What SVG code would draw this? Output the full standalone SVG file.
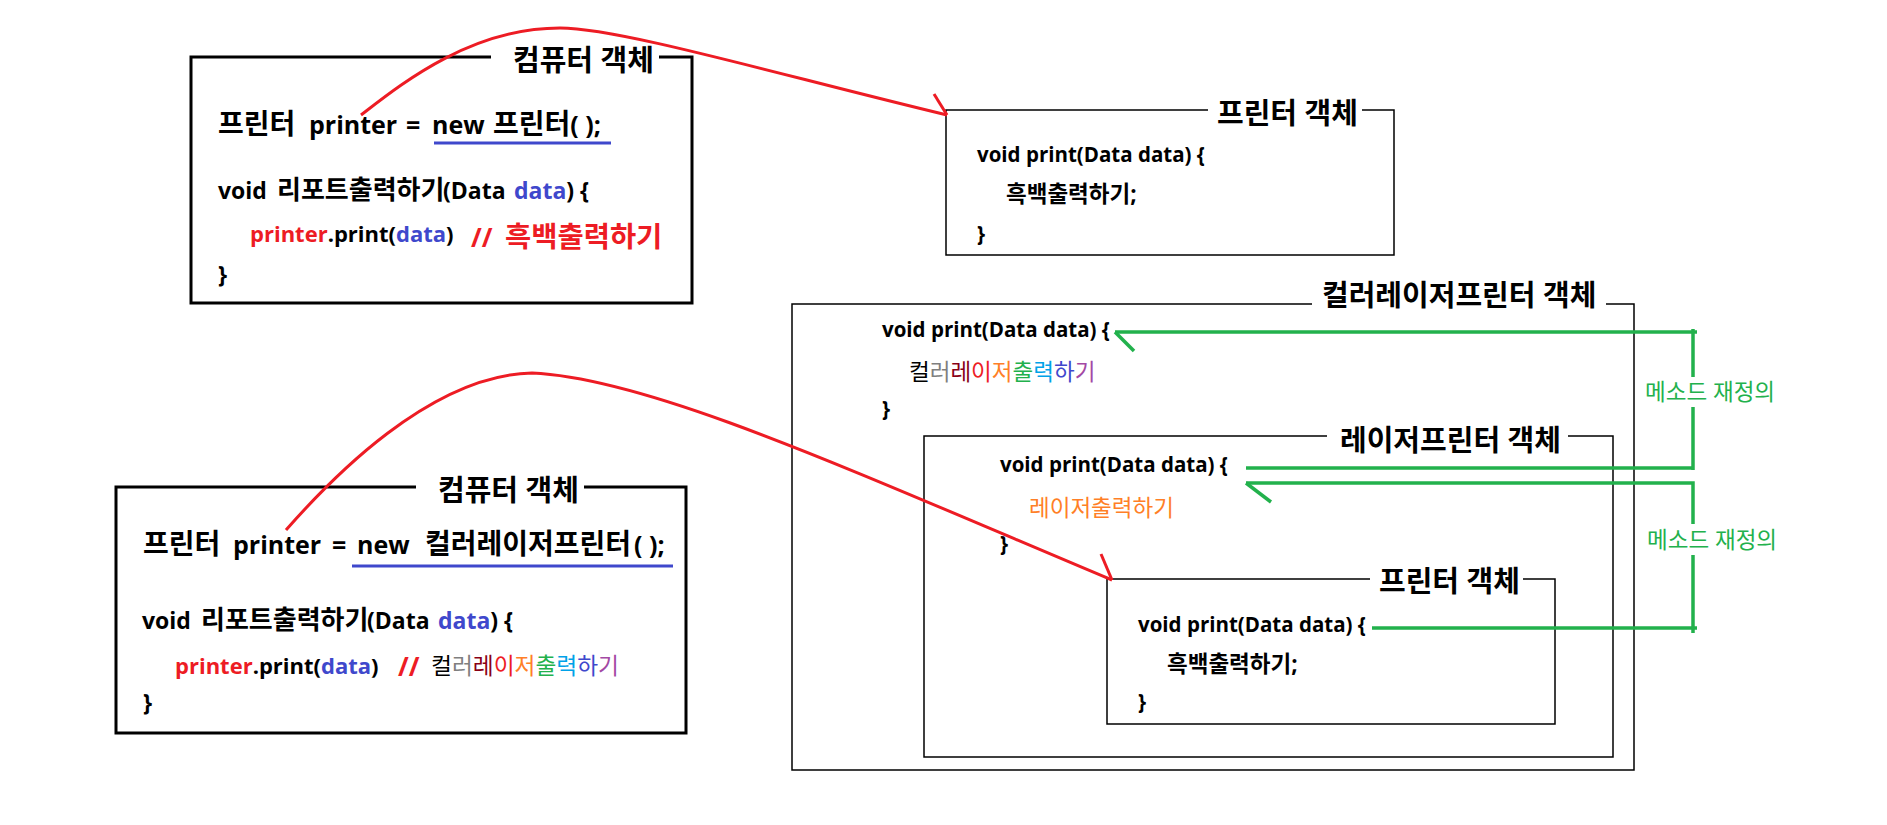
<svg xmlns="http://www.w3.org/2000/svg" width="1887" height="825" viewBox="0 0 1887 825">
<style>
text { font-family: 'Open Sans', 'Noto Sans CJK KR', sans-serif; font-weight: bold; fill: #000; }
.title { font-size: 29px; }
.big { font-size: 25px; }
.bigk { font-size: 28px; }
.mid { font-size: 23px; }
.midk { font-size: 26px; }
.code { font-size: 20.5px; }
.codek { font-size: 22.5px; }
.reg { font-weight: normal; }
.thick { fill: none; stroke: #000; stroke-width: 3; }
.thin { fill: none; stroke: #000; stroke-width: 1.5; }
.red { fill: #ed1c24; }
.blue { fill: #3f48cc; }
.green { fill: #22b14c; }
.orange { fill: #ff7f27; }
.gray { fill: #7f7f7f; }
.dred { fill: #880015; }
.cyan { fill: #00a2e8; }
.purple { fill: #a349a4; }
.ul { stroke: #3f48cc; stroke-width: 3; }
.rl { fill: none; stroke: #ed1c24; stroke-width: 3; }
.gl { fill: none; stroke: #22b14c; stroke-width: 3.5; }
.lbl { font-size: 22.5px; font-weight: normal; fill: #22b14c; }
</style>
<rect width="1887" height="825" fill="#fff"/>

<g id="computer-a">
  <path class="thick" d="M491,57 H191 V303 H692 V57 H659"/>
  <text class="title" x="513" y="71">컴퓨터 객체</text>
  <text class="big" y="134"><tspan x="218" class="bigk">프린터</tspan><tspan x="309">printer</tspan><tspan x="406">=</tspan><tspan x="432">new</tspan><tspan x="493" class="bigk">프린터</tspan><tspan>( );</tspan></text>
  <line class="ul" x1="434" y1="143" x2="611" y2="143"/>
  <text class="mid" y="199"><tspan x="218">void</tspan><tspan x="277" class="midk">리포트출력하기</tspan><tspan x="443">(Data</tspan><tspan x="514" class="blue">data</tspan><tspan>) {</tspan></text>
  <text style="font-size:22px" y="242"><tspan x="250" class="red">printer</tspan><tspan>.print(</tspan><tspan class="blue">data</tspan><tspan>)</tspan></text>
  <text class="red" style="font-size:26px" y="247"><tspan x="471">//</tspan><tspan x="505" style="font-size:28.5px">흑백출력하기</tspan></text>
  <text class="mid" x="218" y="283">}</text>
</g>

<g id="printer-a">
  <path class="thin" d="M1208,110 H946 V255 H1394 V110 H1362"/>
  <text class="title" x="1217" y="124">프린터 객체</text>
  <text class="code" x="977" y="162">void print(Data data) {</text>
  <text class="codek" x="1006" y="202">흑백출력하기;</text>
  <text class="code" x="977" y="241">}</text>
</g>

<g id="color-laser-printer">
  <path class="thin" d="M1312,304 H792 V770 H1634 V304 H1606"/>
  <text class="title" x="1322" y="306">컬러레이저프린터 객체</text>
  <text class="code" x="882" y="337">void print(Data data) {</text>
  <text class="codek reg" x="909" y="380"><tspan>컬</tspan><tspan class="gray">러</tspan><tspan class="dred">레</tspan><tspan class="red">이</tspan><tspan class="orange">저</tspan><tspan class="green">출</tspan><tspan class="cyan">력</tspan><tspan class="blue">하</tspan><tspan class="purple">기</tspan></text>
  <text class="code" x="882" y="416">}</text>
</g>

<g id="laser-printer">
  <path class="thin" d="M1327,436 H924 V757 H1613 V436 H1568"/>
  <text class="title" x="1340" y="451">레이저프린터 객체</text>
  <text class="code" x="1000" y="472">void print(Data data) {</text>
  <text class="codek reg orange" x="1029" y="516">레이저출력하기</text>
  <text class="code" x="1000" y="551">}</text>
</g>

<g id="printer-b">
  <path class="thin" d="M1370,579 H1107 V724 H1555 V579 H1523"/>
  <text class="title" x="1379" y="592">프린터 객체</text>
  <text class="code" x="1138" y="632">void print(Data data) {</text>
  <text class="codek" x="1167" y="672">흑백출력하기;</text>
  <text class="code" x="1138" y="709">}</text>
</g>

<g id="computer-b">
  <path class="thick" d="M416,487 H116 V733 H686 V487 H584"/>
  <text class="title" x="438" y="501">컴퓨터 객체</text>
  <text class="big" y="554"><tspan x="143" class="bigk">프린터</tspan><tspan x="233">printer</tspan><tspan x="332">=</tspan><tspan x="357">new</tspan><tspan x="425" class="bigk">컬러레이저프린터</tspan><tspan x="634">( );</tspan></text>
  <line class="ul" x1="352" y1="566" x2="673" y2="566"/>
  <text class="mid" y="629"><tspan x="142">void</tspan><tspan x="201" class="midk">리포트출력하기</tspan><tspan x="367">(Data</tspan><tspan x="438" class="blue">data</tspan><tspan>) {</tspan></text>
  <text style="font-size:22px" y="674"><tspan x="175" class="red">printer</tspan><tspan>.print(</tspan><tspan class="blue">data</tspan><tspan>)</tspan></text>
  <text class="red" style="font-size:26px" x="398" y="676">//</text>
  <text class="reg" style="font-size:22.7px" x="431" y="674"><tspan>컬</tspan><tspan class="gray">러</tspan><tspan class="dred">레</tspan><tspan class="red">이</tspan><tspan class="orange">저</tspan><tspan class="green">출</tspan><tspan class="cyan">력</tspan><tspan class="blue">하</tspan><tspan class="purple">기</tspan></text>
  <text class="mid" x="143" y="711">}</text>
</g>

<g id="connectors">
  <path class="rl" d="M361,115 C400,85 470,28 560,28 C620,28 780,75 947,115"/>
  <path class="rl" d="M934,94 L947,115"/>
  <path class="rl" d="M286,530 C330,480 430,375 532,373 C650,378 850,470 1112,580"/>
  <path class="rl" d="M1101,554 L1112,580"/>
  <path class="gl" d="M1115,332 H1697 M1693,329 V377 M1693,407 V470 M1693,468 H1246"/>
  <path class="gl" d="M1115,332 L1134,351"/>
  <path class="gl" d="M1246,483 H1693 V524 M1693,555 V633 M1697,628 H1372"/>
  <path class="gl" d="M1246,483 L1271,502"/>
  <text class="lbl" x="1645" y="400">메소드 재정의</text>
  <text class="lbl" x="1647" y="548">메소드 재정의</text>
</g>
</svg>
